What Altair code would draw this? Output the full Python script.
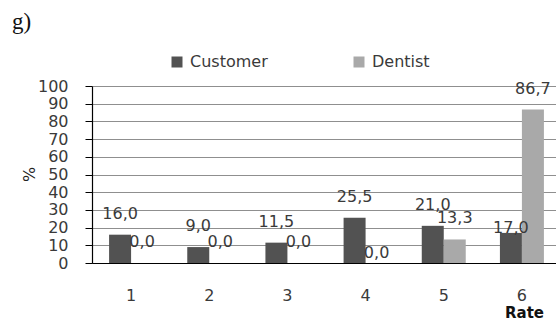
import altair as alt
import pandas as pd

rates = ["1", "2", "3", "4", "5", "6"]
customer = [16.0, 9.0, 11.5, 25.5, 21.0, 17.0]
dentist = [0.0, 0.0, 0.0, 0.0, 13.3, 86.7]
series = ["Customer", "Dentist"]
colors = ["#525252", "#a9a9a9"]
y_ticks = [0, 10, 20, 30, 40, 50, 60, 70, 80, 90, 100]

rows = []
for r, c, d in zip(rates, customer, dentist):
    rows.append({"Rate": r, "Series": "Customer", "Value": c})
    rows.append({"Rate": r, "Series": "Dentist", "Value": d})
df = pd.DataFrame(rows)

FONT = "DejaVu Sans"
TXT = "#3a3a3a"

x_scale = alt.Scale(range=[0, 469], paddingInner=0, paddingOuter=0)
x_axis = alt.Axis(title="Rate", labelAngle=0, ticks=False, domainColor="#000000",
                  domainWidth=1.2, labelPadding=24, labelFont=FONT, labelFontSize=16,
                  labelColor=TXT, titleFont=FONT, titleFontSize=15, titleFontWeight="bold",
                  titleColor="#111111", titleX=432, titleY=49, titleBaseline="middle",
                  titleAnchor="start", titleAlign="center", grid=False)
x_enc = alt.X("Rate:N", sort=rates, scale=x_scale, axis=x_axis)
xo_enc = alt.XOffset("Series:N", sort=series,
                     scale=alt.Scale(paddingOuter=0.777, paddingInner=0))
y_scale = alt.Scale(domain=[0, 100], nice=False)
y_axis = alt.Axis(title="%", values=y_ticks, tickCount=11, labelOverlap=False, grid=True,
                  gridColor="#8f8f8f", gridWidth=1.2,
                  domainColor="#000000", domainWidth=1.2, tickColor="#000000", tickSize=7,
                  labelPadding=17, labelFont=FONT, labelFontSize=16, labelColor=TXT,
                  titleFont=FONT, titleFontSize=16, titleColor="#222222",
                  titleX=-63, titleY=88, titleAngle=270, titleBaseline="middle",
                  titleAlign="center", titleFontWeight="normal")
y_enc = alt.Y("Value:Q", scale=y_scale, axis=y_axis)

base = alt.Chart(df)

bars = base.mark_bar(size=22).encode(
    x=x_enc,
    xOffset=xo_enc,
    y=y_enc,
    color=alt.Color("Series:N", sort=series,
                    scale=alt.Scale(domain=series, range=colors),
                    legend=alt.Legend(orient="none", legendX=77, legendY=-32, direction="horizontal",
                                      title=None, symbolType="square", symbolSize=121,
                                      symbolStrokeWidth=0, labelFont=FONT, labelFontSize=16,
                                      labelColor=TXT, labelOffset=5, columnPadding=83, padding=0)),
)

label_expr = "replace(format(datum.Value, '.1f'), '.', ',')"
exc = "(datum.Rate == '4' && datum.Series == 'Dentist') || (datum.Rate == '6' && datum.Series == 'Customer')"

def text_layer(dy, filt):
    return base.transform_calculate(Label=label_expr).transform_filter(filt).mark_text(
        dy=dy, font=FONT, fontSize=16, color=TXT, baseline="alphabetic"
    ).encode(x=x_enc, xOffset=xo_enc, y=y_enc, text="Label:N")

labels_main = text_layer(-16, "!(" + exc + ")")
labels_a = text_layer(-5, "datum.Rate == '4' && datum.Series == 'Dentist'")
labels_b = text_layer(0, "datum.Rate == '6' && datum.Series == 'Customer'")

tag = alt.Chart(pd.DataFrame({"t": ["g)"]})).mark_text(
    font="Liberation Serif", fontSize=23, color="#111111", align="left", baseline="top"
).encode(text="t:N", x=alt.value(-80), y=alt.value(-75))

chart = alt.layer(bars, labels_main, labels_a, labels_b, tag).properties(
    width=462, height=177,
    background="white",
    autosize=alt.AutoSizeParams(type="none"),
    padding={"left": 92, "top": 86, "right": 2, "bottom": 57},
).configure_view(stroke=None)

chart.save("out.html", embed_options={"renderer": "svg", "actions": False})
